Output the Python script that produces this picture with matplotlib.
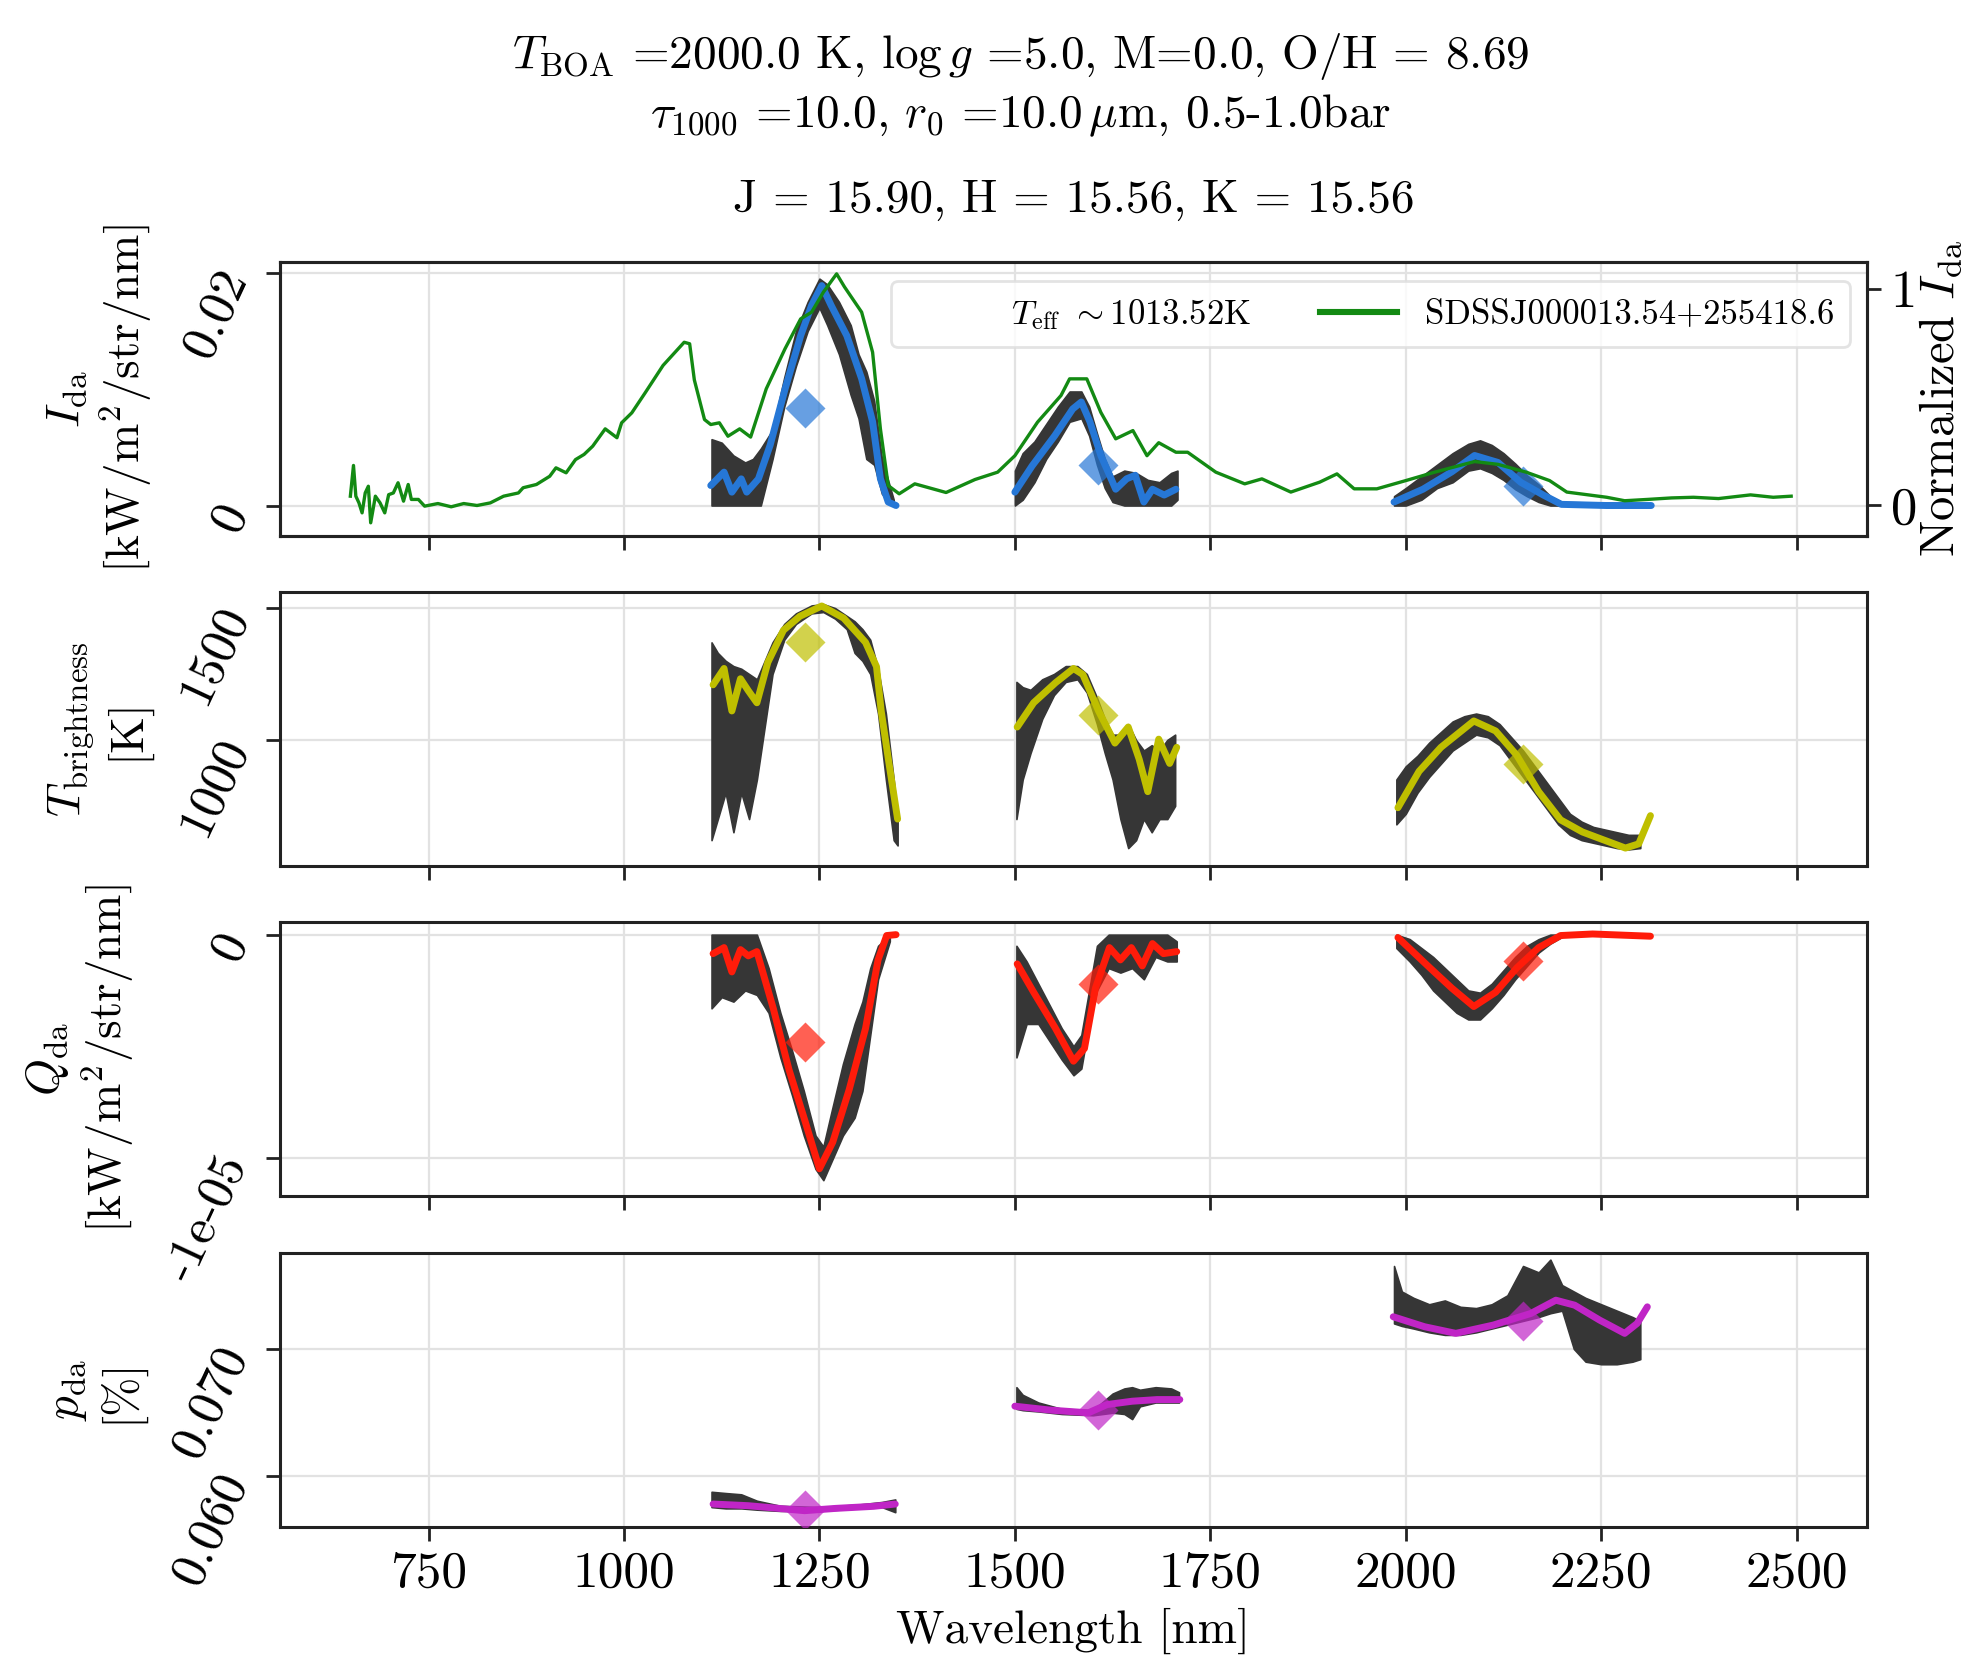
import matplotlib
matplotlib.use("Agg")
import matplotlib.pyplot as plt
from matplotlib.ticker import FuncFormatter, FixedLocator
import numpy as np

plt.rcParams['font.family'] = 'serif'
plt.rcParams['font.serif'] = ['cmr10']
plt.rcParams['mathtext.fontset'] = 'cm'
plt.rcParams['axes.formatter.use_mathtext'] = True
plt.rcParams['axes.unicode_minus'] = False

# ---------------- data ----------------
# observed spectrum (green, normalized, twin axis of panel 1)
obs_wl = [650, 654, 657, 661, 665, 669, 673, 676, 682, 688, 694, 699, 705, 711, 718, 724, 728, 737, 745,
          762, 779, 795, 812, 829, 846, 865, 871, 888, 905, 913, 926, 938, 949, 960, 976, 991, 997, 1010,
          1027, 1050, 1077, 1084, 1090, 1103, 1111, 1122, 1133, 1148, 1162, 1182, 1206, 1226, 1240, 1255,
          1272, 1282, 1304, 1318, 1328, 1338, 1352, 1372,
          1412, 1449, 1478, 1500, 1529, 1559, 1570, 1592, 1610, 1629, 1651, 1669, 1684, 1706, 1721,
          1757, 1794, 1816, 1853, 1890, 1912, 1934, 1963, 2000, 2037, 2088, 2118, 2154, 2184, 2206,
          2257, 2280, 2309, 2340, 2368, 2400, 2441, 2470, 2493]
obs_norm = [0.043, 0.185, 0.043, 0.012, -0.034, 0.058, 0.089, -0.08, 0.043, 0.012, -0.034, 0.05, 0.058, 0.105, 0.02,
            0.097, 0.028, 0.028, -0.003,
            0.009, -0.006, 0.009, 0.0, 0.012, 0.043, 0.058, 0.082, 0.097, 0.135, 0.174, 0.151, 0.212, 0.236, 0.274,
            0.354, 0.313, 0.382, 0.428,
            0.52, 0.647, 0.754, 0.747, 0.58, 0.397, 0.374, 0.382, 0.32, 0.354, 0.316, 0.539, 0.724, 0.862, 0.893, 0.985,
            1.07, 1.01, 0.893, 0.708, 0.354, 0.092, 0.054, 0.10,
            0.06, 0.12, 0.154, 0.23, 0.385, 0.508, 0.585, 0.585, 0.43, 0.308, 0.346, 0.23, 0.29, 0.246, 0.246,
            0.154, 0.10, 0.123, 0.062, 0.108, 0.146, 0.077, 0.077, 0.115, 0.154, 0.203, 0.19, 0.154, 0.115, 0.062,
            0.038, 0.022, 0.028, 0.035, 0.038, 0.032, 0.049, 0.038, 0.043]

# model intensity (blue), three bands
I_J_wl = [1111, 1128, 1138, 1150, 1157, 1172, 1187, 1206, 1226, 1240, 1253, 1265, 1285, 1304, 1318, 1328, 1338, 1348]
I_J = [0.00172, 0.00287, 0.00115, 0.00229, 0.00115, 0.00229, 0.0052, 0.0100, 0.0146, 0.0172, 0.0189, 0.0172,
       0.0146, 0.0109, 0.0072, 0.0023, 0.0003, 0.0]
I_H_wl = [1500, 1522, 1551, 1574, 1585, 1596, 1610, 1629, 1643, 1654, 1665, 1676, 1691, 1706]
I_H = [0.00115, 0.0034, 0.0060, 0.0083, 0.0089, 0.0072, 0.0043, 0.0014, 0.0023, 0.0026, 0.0003, 0.0014, 0.0009, 0.0014]
I_K_wl = [1985, 2022, 2059, 2088, 2118, 2147, 2176, 2199, 2257, 2314]
I_K = [0.0003, 0.0014, 0.0029, 0.0043, 0.0037, 0.0020, 0.0009, 0.0001, 0.0, 0.0]

# noisy intensity envelope (dark grey)
nI_J_wl = [1112, 1125, 1140, 1155, 1165, 1175, 1190, 1205, 1220, 1235, 1250, 1260, 1275, 1290, 1300, 1310, 1320, 1330, 1345]
nI_J_lo = [0.0, 0.0, 0.0, 0.0, 0.0, 0.0, 0.004, 0.0085, 0.012, 0.015, 0.017, 0.0155, 0.013, 0.0095, 0.0075, 0.004, 0.0035, 0.001, 0.0]
nI_J_hi = [0.0057, 0.0054, 0.0043, 0.0037, 0.0040, 0.0049, 0.0065, 0.011, 0.015, 0.0175, 0.0195, 0.019, 0.0175, 0.0155, 0.013, 0.0115, 0.009, 0.004, 0.0005]
nI_H_wl = [1500, 1510, 1525, 1540, 1555, 1570, 1585, 1595, 1605, 1615, 1625, 1640, 1655, 1670, 1685, 1700, 1708]
nI_H_lo = [0.0, 0.0005, 0.002, 0.004, 0.0055, 0.0072, 0.0075, 0.006, 0.0035, 0.0015, 0.0003, 0.0, 0.0, 0.0, 0.0, 0.0, 0.0005]
nI_H_hi = [0.003, 0.0045, 0.0055, 0.007, 0.0085, 0.0098, 0.0098, 0.0085, 0.0062, 0.004, 0.0025, 0.003, 0.0028, 0.0022, 0.002, 0.0028, 0.003]
nI_K_wl = [1985, 2000, 2020, 2040, 2060, 2080, 2095, 2110, 2125, 2140, 2155, 2170, 2185, 2200, 2300]
nI_K_lo = [0.0, 0.0, 0.0005, 0.0015, 0.002, 0.003, 0.0032, 0.0028, 0.0022, 0.0014, 0.0008, 0.0003, 0.0, 0.0, 0.0]
nI_K_hi = [0.0008, 0.0015, 0.0025, 0.0035, 0.0045, 0.0053, 0.0056, 0.0052, 0.0045, 0.0036, 0.0026, 0.0018, 0.0008, 0.0003, 0.0002]

# brightness temperature (yellow)
T_J_wl = [1114, 1128, 1138, 1149, 1159, 1170, 1184, 1204, 1225, 1253, 1281, 1309, 1323, 1329, 1339, 1350]
T_J = [1209, 1271, 1110, 1232, 1187, 1141, 1294, 1416, 1469, 1508, 1462, 1370, 1278, 1110, 911, 700]
T_H_wl = [1503, 1524, 1552, 1575, 1587, 1607, 1628, 1645, 1659, 1670, 1684, 1698, 1707]
T_H = [1049, 1141, 1217, 1271, 1248, 1110, 988, 1049, 927, 804, 1003, 911, 972]
T_K_wl = [1990, 2017, 2045, 2087, 2115, 2142, 2170, 2198, 2226, 2253, 2281, 2298, 2313]
T_K = [743, 881, 972, 1072, 1034, 942, 804, 697, 651, 621, 590, 606, 713]

nT_J_wl = [1112, 1120, 1130, 1140, 1150, 1160, 1170, 1180, 1190, 1205, 1220, 1240, 1255, 1270, 1285, 1295, 1305, 1315, 1325, 1335, 1345, 1350]
nT_J_lo = [620, 700, 800, 650, 800, 700, 850, 1050, 1250, 1380, 1440, 1480, 1485, 1460, 1420, 1330, 1300, 1250, 1100, 850, 620, 600]
nT_J_hi = [1370, 1330, 1300, 1280, 1270, 1250, 1230, 1300, 1370, 1440, 1480, 1510, 1515, 1500, 1470, 1450, 1420, 1380, 1270, 1100, 850, 700]
nT_H_wl = [1502, 1510, 1520, 1535, 1550, 1565, 1580, 1592, 1605, 1615, 1625, 1635, 1645, 1655, 1665, 1675, 1685, 1695, 1705]
nT_H_lo = [700, 850, 950, 1080, 1170, 1220, 1230, 1180, 1060, 950, 850, 700, 590, 620, 700, 650, 700, 700, 750]
nT_H_hi = [1220, 1200, 1190, 1230, 1250, 1280, 1280, 1250, 1160, 1080, 1020, 1020, 1060, 1000, 960, 980, 960, 1000, 1020]
nT_K_wl = [1988, 2000, 2015, 2030, 2045, 2060, 2075, 2090, 2105, 2120, 2135, 2150, 2165, 2180, 2195, 2210, 2225, 2240, 2255, 2270, 2285, 2300]
nT_K_lo = [680, 720, 800, 860, 910, 960, 990, 1020, 1010, 980, 920, 860, 800, 740, 680, 640, 620, 610, 600, 590, 585, 590]
nT_K_hi = [850, 900, 940, 990, 1030, 1070, 1090, 1100, 1090, 1060, 1010, 960, 900, 840, 780, 720, 690, 670, 660, 650, 640, 640]

# polarized intensity Q (red), units of 1e-5
Q_J_wl = [1114, 1128, 1138, 1149, 1159, 1170, 1191, 1211, 1232, 1250, 1267, 1288, 1309, 1325, 1336, 1348]
Q_J = [-0.085, -0.058, -0.167, -0.067, -0.095, -0.076, -0.331, -0.604, -0.84, -1.049, -0.93, -0.695, -0.42, -0.113, -0.004, 0.0]
Q_H_wl = [1503, 1524, 1552, 1575, 1589, 1603, 1621, 1635, 1649, 1663, 1676, 1690, 1707]
Q_H = [-0.131, -0.258, -0.42, -0.567, -0.51, -0.24, -0.058, -0.113, -0.058, -0.14, -0.04, -0.085, -0.076]
Q_K_wl = [1990, 2031, 2059, 2087, 2115, 2142, 2170, 2198, 2239, 2313]
Q_K = [-0.013, -0.149, -0.24, -0.322, -0.258, -0.149, -0.058, -0.004, 0.003, -0.007]

nQ_J_wl = [1112, 1125, 1140, 1155, 1170, 1185, 1200, 1215, 1230, 1245, 1255, 1265, 1280, 1295, 1305, 1315, 1325, 1340]
nQ_J_lo = [-0.33, -0.28, -0.30, -0.25, -0.27, -0.35, -0.55, -0.72, -0.90, -1.05, -1.10, -1.02, -0.90, -0.82, -0.70, -0.45, -0.20, -0.03]
nQ_J_hi = [0.0, 0.0, 0.0, 0.0, 0.0, -0.15, -0.35, -0.52, -0.70, -0.90, -0.95, -0.80, -0.58, -0.40, -0.30, -0.15, -0.05, 0.0]
nQ_H_wl = [1502, 1515, 1530, 1545, 1560, 1575, 1585, 1595, 1605, 1620, 1635, 1650, 1665, 1680, 1695, 1707]
nQ_H_lo = [-0.55, -0.40, -0.40, -0.48, -0.56, -0.63, -0.60, -0.40, -0.25, -0.15, -0.17, -0.15, -0.20, -0.10, -0.12, -0.12]
nQ_H_hi = [-0.05, -0.12, -0.22, -0.32, -0.42, -0.50, -0.45, -0.25, -0.05, 0.0, 0.0, 0.0, 0.0, 0.0, 0.0, -0.03]
nQ_K_wl = [1988, 2005, 2020, 2035, 2050, 2065, 2080, 2095, 2110, 2125, 2140, 2155, 2170, 2185, 2200]
nQ_K_lo = [-0.06, -0.12, -0.18, -0.25, -0.30, -0.35, -0.38, -0.38, -0.33, -0.27, -0.20, -0.14, -0.08, -0.04, -0.01]
nQ_K_hi = [0.0, -0.02, -0.06, -0.10, -0.15, -0.20, -0.25, -0.26, -0.22, -0.16, -0.10, -0.05, -0.02, 0.0, 0.0]

# degree of polarization (magenta)
p_J_wl = [1114, 1159, 1207, 1231, 1271, 1319, 1347]
p_J = [0.05784, 0.05771, 0.05745, 0.05732, 0.0575, 0.05766, 0.05784]
p_H_wl = [1500, 1546, 1594, 1618, 1650, 1682, 1711]
p_H = [0.06551, 0.0652, 0.06499, 0.06564, 0.0659, 0.06603, 0.06603]
p_K_wl = [1984, 2024, 2064, 2112, 2160, 2192, 2216, 2248, 2280, 2296, 2309]
p_K = [0.07252, 0.07174, 0.07122, 0.07187, 0.07278, 0.07382, 0.07343, 0.07226, 0.07122, 0.07200, 0.0733]

np_J_wl = [1112, 1130, 1150, 1170, 1200, 1250, 1300, 1330, 1347]
np_J_lo = [0.0576, 0.0575, 0.0575, 0.0574, 0.0573, 0.0573, 0.0575, 0.0576, 0.0572]
np_J_hi = [0.0588, 0.0587, 0.0586, 0.0581, 0.0577, 0.0576, 0.0578, 0.0580, 0.0582]
np_H_wl = [1502, 1510, 1530, 1560, 1600, 1625, 1640, 1650, 1660, 1680, 1700, 1710]
np_H_lo = [0.0653, 0.0652, 0.0651, 0.0649, 0.0648, 0.0650, 0.0649, 0.0645, 0.0655, 0.0658, 0.0658, 0.0658]
np_H_hi = [0.0670, 0.0664, 0.0658, 0.0653, 0.0652, 0.0665, 0.0669, 0.0670, 0.0668, 0.0670, 0.0669, 0.0666]
np_K_wl = [1985, 1995, 2010, 2030, 2050, 2070, 2090, 2110, 2130, 2150, 2170, 2185, 2200, 2215, 2230, 2250, 2270, 2290, 2300]
np_K_lo = [0.0720, 0.0718, 0.0716, 0.0713, 0.0711, 0.0711, 0.0713, 0.0716, 0.0719, 0.0722, 0.0725, 0.0728, 0.0730, 0.0700, 0.0690, 0.0688, 0.0688, 0.0690, 0.0692]
np_K_hi = [0.0765, 0.0745, 0.0740, 0.0735, 0.0738, 0.0733, 0.0732, 0.0735, 0.0742, 0.0765, 0.0760, 0.0770, 0.0750, 0.0745, 0.0740, 0.0735, 0.0730, 0.0725, 0.0722]

# photometric band points (diamonds)
band_wl = [1232, 1606, 2150]
band_I = [0.00839, 0.00344, 0.00172]
band_T = [1371, 1095, 910]
band_Q = [-0.480, -0.223, -0.117]
band_p = [0.05735, 0.06520, 0.07216]

title_lines = [r"$T_{\rm BOA}$ =2000.0 K, $\log g$ =5.0, M=0.0, O/H = 8.69",
               r"$\tau_{1000}$ =10.0, $r_0$ =10.0$\,\mu$m, 0.5-1.0bar"]
mag_title = "J = 15.90, H = 15.56, K = 15.56"
legend_teff = r"$T_{\rm eff}$ $\sim$1013.52K"
legend_obs = "SDSSJ000013.54+255418.6"

# ---------------- figure ----------------
W, H = 1962, 1660
fig = plt.figure(figsize=(W / 200, H / 200), dpi=200)

left, width = 280 / W, 1587 / W
tops = [262, 592, 922, 1253]
hpx = 274
axes = [fig.add_axes([left, 1 - (t + hpx) / H, width, hpx / H]) for t in tops]

GREY = '#363636'
BLUE = '#2677d6'
YEL = '#bfbf00'
RED = '#ff1c0a'
MAG = '#c025c6'
GREEN = '#138a13'
EDGE = '#222222'
TICK_FS = 18.5
YLAB_FS = 17

def setup(ax):
    ax.set_xlim(560, 2590)
    ax.grid(True, color='#e2e2e2', lw=0.8)
    ax.set_axisbelow(True)
    for s in ax.spines.values():
        s.set_linewidth(1.1)
        s.set_color(EDGE)
    ax.xaxis.set_major_locator(FixedLocator([750, 1000, 1250, 1500, 1750, 2000, 2250, 2500]))
    ax.tick_params(axis='x', labelsize=TICK_FS, width=1.0, length=5, color=EDGE)
    ax.tick_params(axis='y', labelsize=TICK_FS, width=1.0, length=5, color=EDGE, pad=11)

def rot_labels(ax):
    for lbl in ax.get_yticklabels():
        lbl.set_rotation(65)
        lbl.set_rotation_mode('anchor')
        lbl.set_ha('right')
        lbl.set_va('center')

def band_plot(ax, nwl, nlo, nhi, mwl, mv, color):
    for w_, lo_, hi_ in zip(nwl, nlo, nhi):
        ax.fill_between(w_, lo_, hi_, color=GREY, lw=0.6)
    for w_, v_ in zip(mwl, mv):
        ax.plot(w_, v_, color=color, lw=2.5, solid_capstyle='round', zorder=3)

# Panel 1
ax = axes[0]
setup(ax)
band_plot(ax, [nI_J_wl, nI_H_wl, nI_K_wl], [nI_J_lo, nI_H_lo, nI_K_lo], [nI_J_hi, nI_H_hi, nI_K_hi],
          [I_J_wl, I_H_wl, I_K_wl], [I_J, I_H, I_K], BLUE)
ax.plot(band_wl, band_I, 'D', color=BLUE, ms=10, alpha=0.7, mec='none', zorder=4)
ax.set_ylim(-0.00262, 0.02093)
ax.yaxis.set_major_locator(FixedLocator([0, 0.02]))
ax.yaxis.set_major_formatter(FuncFormatter(lambda v, p: '%g' % round(v, 6)))
ax.set_ylabel("$I_{\\rm da}$\n[kW/m$^2$/str/nm]", fontsize=YLAB_FS, labelpad=8)
ax2 = ax.twinx()
ax2.plot(obs_wl, obs_norm, color=GREEN, lw=1.2, zorder=2)
ax2.set_ylim(-0.1409, 1.1247)
ax2.yaxis.set_major_locator(FixedLocator([0, 1]))
ax2.yaxis.set_major_formatter(FuncFormatter(lambda v, p: '%d' % round(v)))
ax2.tick_params(axis='y', labelsize=19, width=1.0, length=5, color=EDGE)
ax2.set_ylabel("Normalized $I_{\\rm da}$", fontsize=17.5, labelpad=0)
for s in ax2.spines.values():
    s.set_linewidth(1.1)
    s.set_color(EDGE)
h1, = ax2.plot([], [], ' ', label=legend_teff)
h2, = ax2.plot([], [], color=GREEN, lw=2.2, label=legend_obs)
leg = ax2.legend(handles=[h1, h2], ncol=2, loc='upper right', fontsize=12.5,
                 bbox_to_anchor=(0.989, 0.93), borderaxespad=0, columnspacing=2.0, handlelength=2.2,
                 borderpad=0.45, frameon=True, fancybox=True)
leg.get_frame().set_edgecolor('#dddddd')
ax.tick_params(axis='x', labelbottom=False)

# Panel 2
ax = axes[1]
setup(ax)
band_plot(ax, [nT_J_wl, nT_H_wl, nT_K_wl], [nT_J_lo, nT_H_lo, nT_K_lo], [nT_J_hi, nT_H_hi, nT_K_hi],
          [T_J_wl, T_H_wl, T_K_wl], [T_J, T_H, T_K], YEL)
ax.plot(band_wl, band_T, 'D', color=YEL, ms=10, alpha=0.7, mec='none', zorder=4)
ax.set_ylim(522, 1561)
ax.yaxis.set_major_locator(FixedLocator([1000, 1500]))
ax.yaxis.set_major_formatter(FuncFormatter(lambda v, p: '%d' % v))
ax.set_ylabel("$T_{\\rm brightness}$\n[K]", fontsize=YLAB_FS, labelpad=8)
ax.tick_params(axis='x', labelbottom=False)

# Panel 3
ax = axes[2]
setup(ax)
sc = 1e-5
band_plot(ax, [nQ_J_wl, nQ_H_wl, nQ_K_wl],
          [np.array(nQ_J_lo) * sc, np.array(nQ_H_lo) * sc, np.array(nQ_K_lo) * sc],
          [np.array(nQ_J_hi) * sc, np.array(nQ_H_hi) * sc, np.array(nQ_K_hi) * sc],
          [Q_J_wl, Q_H_wl, Q_K_wl], [np.array(Q_J) * sc, np.array(Q_H) * sc, np.array(Q_K) * sc], RED)
ax.plot(band_wl, np.array(band_Q) * sc, 'D', color=RED, ms=10, alpha=0.7, mec='none', zorder=4)
ax.set_ylim(-1.171e-5, 0.0567e-5)
ax.yaxis.set_major_locator(FixedLocator([-1e-5, 0]))
ax.yaxis.set_major_formatter(FuncFormatter(lambda v, p: '0' if abs(v) < 1e-12 else '%.0e' % v))
ax.set_ylabel("$Q_{\\rm da}$\n[kW/m$^2$/str/nm]", fontsize=YLAB_FS, labelpad=8)
ax.tick_params(axis='x', labelbottom=False)

# Panel 4
ax = axes[3]
setup(ax)
band_plot(ax, [np_J_wl, np_H_wl, np_K_wl], [np_J_lo, np_H_lo, np_K_lo], [np_J_hi, np_H_hi, np_K_hi],
          [p_J_wl, p_H_wl, p_K_wl], [p_J, p_H, p_K], MAG)
ax.plot(band_wl, band_p, 'D', color=MAG, ms=10, alpha=0.7, mec='none', zorder=4)
ax.set_ylim(0.05604, 0.07752)
ax.yaxis.set_major_locator(FixedLocator([0.060, 0.070]))
ax.yaxis.set_major_formatter(FuncFormatter(lambda v, p: '%.3f' % v))
ax.set_ylabel("$p_{\\rm da}$\n[%]", fontsize=YLAB_FS, labelpad=8)
ax.set_xlabel("Wavelength [nm]", fontsize=17)
ax.xaxis.set_major_formatter(FuncFormatter(lambda v, p: '%d' % v))

for a in axes:
    rot_labels(a)

fig.text(0.52, 1 - 56 / H, title_lines[0], ha='center', va='center', fontsize=17)
fig.text(0.52, 1 - 116 / H, title_lines[1], ha='center', va='center', fontsize=17)
fig.text((280 + 1867) / 2 / W, 1 - 200 / H, mag_title, ha='center', va='center', fontsize=17)

fig.savefig("out.png", dpi=200)
